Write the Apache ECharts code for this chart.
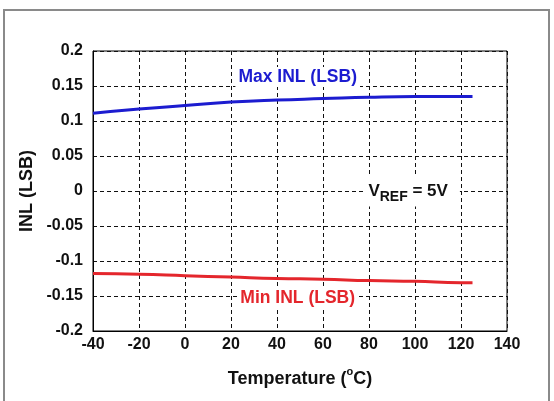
<!DOCTYPE html>
<html>
<head>
<meta charset="utf-8">
<script src="https://cdn.jsdelivr.net/npm/echarts@6/dist/echarts.min.js"></script>
<style>
  html, body { margin: 0; padding: 0; background: #fff; }
  #main { width: 554px; height: 401px; }
</style>
</head>
<body>
<div id="main"></div>
<script>
// temperatures (degC) and INL values
var temps = [-40, -20, 0, 20, 40, 60, 80, 100, 120, 125];
var maxInl = [0.111, 0.117, 0.122, 0.127, 0.130, 0.132, 0.134, 0.135, 0.135, 0.135];
var minInl = [-0.118, -0.119, -0.121, -0.123, -0.125, -0.126, -0.128, -0.129, -0.131, -0.131];

// annotation anchors, in data coordinates
var maxLabelAt = [49, 0.163];
var minLabelAt = [49, -0.153];
var vrefLabelAt = [78, 0];

var font = '"Liberation Sans", Arial, sans-serif';
var myChart = echarts.init(document.getElementById('main'));

function pairs(xs, ys) {
  return xs.map(function (x, i) { return [x, ys[i]]; });
}

var option = {
  backgroundColor: '#fff',
  animation: false,
  grid: {
    left: 93, right: 47, top: 51, bottom: 70,
    show: true, borderColor: '#000', borderWidth: 1
  },
  xAxis: {
    type: 'value',
    min: -40, max: 140, interval: 20,
    name: '{t|Temperature (}{sup|o}{t|C)}',
    nameLocation: 'middle',
    nameGap: 35,
    nameTextStyle: {
      rich: {
        t: { fontFamily: font, fontWeight: 'bold', fontSize: 18, color: '#111', lineHeight: 22, verticalAlign: 'bottom' },
        sup: { fontFamily: font, fontWeight: 'bold', fontSize: 11, color: '#111', lineHeight: 11, verticalAlign: 'top' }
      }
    },
    axisLine: { onZero: false, lineStyle: { color: '#000', width: 1 } },
    axisTick: { show: false },
    axisLabel: { fontFamily: font, fontWeight: 'bold', fontSize: 16, color: '#111', margin: 6 },
    splitLine: { lineStyle: { color: '#111', type: [4, 3], width: 1 } }
  },
  yAxis: {
    type: 'value',
    min: -0.2, max: 0.2, interval: 0.05,
    name: 'INL (LSB)',
    nameLocation: 'middle',
    nameGap: 50,
    nameTextStyle: { fontFamily: font, fontWeight: 'bold', fontSize: 18, color: '#111' },
    axisLine: { onZero: false, lineStyle: { color: '#000', width: 1 } },
    axisTick: { show: false },
    axisLabel: { fontFamily: font, fontWeight: 'bold', fontSize: 16, color: '#111', margin: 10 },
    splitLine: { lineStyle: { color: '#111', type: [4, 3], width: 1 } }
  },
  series: [
    {
      name: 'Max INL (LSB)',
      type: 'line',
      smooth: true,
      showSymbol: false,
      lineStyle: { color: '#1c1cd0', width: 3 },
      data: pairs(temps, maxInl)
    },
    {
      name: 'Min INL (LSB)',
      type: 'line',
      smooth: true,
      showSymbol: false,
      lineStyle: { color: '#e4262c', width: 3 },
      data: pairs(temps, minInl)
    }
  ]
};

myChart.setOption(option);

// text annotations and the outer frame
var pMax = myChart.convertToPixel({ gridIndex: 0 }, maxLabelAt);
var pMin = myChart.convertToPixel({ gridIndex: 0 }, minLabelAt);
var pRef = myChart.convertToPixel({ gridIndex: 0 }, vrefLabelAt);

myChart.setOption({
  graphic: [
    {
      type: 'rect', silent: true,
      shape: { x: 4, y: 10, width: 545, height: 392 },
      style: { fill: null, stroke: '#8a8a8a', lineWidth: 2 }
    },
    {
      type: 'text', x: pMax[0], y: pMax[1], z: 10,
      style: {
        text: 'Max INL (LSB)', font: 'bold 17.5px ' + font, fill: '#1c1cd0',
        align: 'center', verticalAlign: 'middle',
        backgroundColor: '#fff', padding: [1, 3]
      }
    },
    {
      type: 'text', x: pMin[0], y: pMin[1], z: 10,
      style: {
        text: 'Min INL (LSB)', font: 'bold 17.5px ' + font, fill: '#e4262c',
        align: 'center', verticalAlign: 'middle',
        backgroundColor: '#fff', padding: [1, 3]
      }
    },
    {
      type: 'text', x: pRef[0], y: pRef[1], z: 10,
      style: {
        text: '{v|V}{sub|REF}{v| = 5V}',
        align: 'left', verticalAlign: 'middle',
        backgroundColor: '#fff', padding: [2, 12, 2, 4],
        rich: {
          v: { font: 'bold 17px ' + font, fill: '#111', lineHeight: 27, verticalAlign: 'middle' },
          sub: { font: 'bold 14px ' + font, fill: '#111', lineHeight: 15, verticalAlign: 'bottom' }
        }
      }
    }
  ]
});
</script>
</body>
</html>
